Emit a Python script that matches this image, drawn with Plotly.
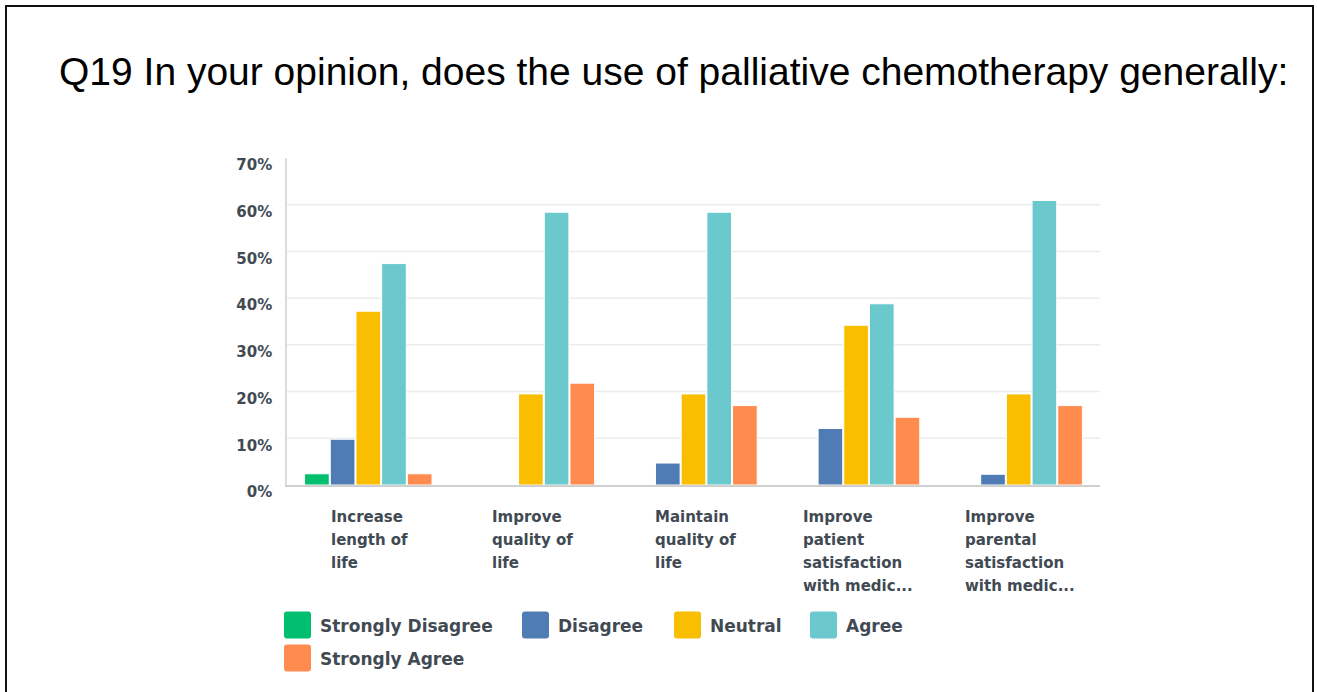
import plotly.graph_objects as go

# Survey responses (percent of respondents)
categories = [
    "Increase length of life",
    "Improve quality of life",
    "Maintain quality of life",
    "Improve patient satisfaction with medic...",
    "Improve parental satisfaction with medic...",
]
category_labels = [
    ["Increase", "length of", "life"],
    ["Improve", "quality of", "life"],
    ["Maintain", "quality of", "life"],
    ["Improve", "patient", "satisfaction", "with medic..."],
    ["Improve", "parental", "satisfaction", "with medic..."],
]
series_names = ["Strongly Disagree", "Disagree", "Neutral", "Agree", "Strongly Agree"]
strongly_disagree = [2.4, 0.0, 0.0, 0.0, 0.0]
disagree = [9.8, 0.0, 4.7, 12.1, 2.3]
neutral = [37.2, 19.5, 19.5, 34.2, 19.5]
agree = [47.4, 58.4, 58.4, 38.8, 60.9]
strongly_agree = [2.4, 21.8, 17.0, 14.5, 17.0]
series_colors = ["#00bf6f", "#507cb6", "#f9be00", "#6bc8cd", "#ff8b4f"]
y_ticks = [0, 10, 20, 30, 40, 50, 60, 70]

W, H = 1317, 692
ML, MR, MT, MB = 287, 217, 158, 207
PW, PH = W - ML - MR, H - MT - MB
TEXT = "#414a53"
FONT = "DejaVu Sans"
LABEL_SIZE = 15
LABEL_LINE = 23  # line pitch of the category labels, px

# approximate advance widths (em) of DejaVu Sans Bold, used to left-align
# the lines of each category label as one block centred under its group
GLYPH_EM = {
    " ": 0.348, ".": 0.380, "a": 0.675, "b": 0.716, "c": 0.593, "d": 0.716,
    "e": 0.678, "f": 0.435, "g": 0.716, "h": 0.712, "i": 0.343, "l": 0.343,
    "m": 1.042, "n": 0.712, "o": 0.687, "p": 0.716, "q": 0.716, "r": 0.493,
    "s": 0.595, "t": 0.478, "u": 0.712, "v": 0.652, "w": 0.924, "y": 0.652,
    "I": 0.372, "M": 0.995,
}


def text_width(s, size):
    return sum(GLYPH_EM.get(ch, 0.65) for ch in s) * size


def px_x(px):
    return (px - ML) / PW


def px_y(py):
    return (H - MB - py) / PH


def rounded_rect(x0, y0, x1, y1, r):
    """SVG path (paper coords) for a rectangle given in pixels, with rounded corners."""
    rx, ry = r / PW, r / PH
    X0, X1 = px_x(x0), px_x(x1)
    Yt, Yb = px_y(y0), px_y(y1)
    pts = [
        f"M{X0 + rx},{Yt}", f"L{X1 - rx},{Yt}", f"Q{X1},{Yt} {X1},{Yt - ry}",
        f"L{X1},{Yb + ry}", f"Q{X1},{Yb} {X1 - rx},{Yb}", f"L{X0 + rx},{Yb}",
        f"Q{X0},{Yb} {X0},{Yb + ry}", f"L{X0},{Yt - ry}", f"Q{X0},{Yt} {X0 + rx},{Yt}",
    ]
    return " ".join(pts) + " Z"


values = [strongly_disagree, disagree, neutral, agree, strongly_agree]

fig = go.Figure()
for name, vals, color in zip(series_names, values, series_colors):
    fig.add_trace(go.Bar(
        x=categories, y=vals, name=name,
        marker=dict(color=color, line=dict(color="white", width=1)),
        showlegend=False,
    ))

shapes = []
# horizontal grid lines (skip baseline and top)
for t in y_ticks[1:-1]:
    shapes.append(dict(type="line", xref="paper", yref="y", x0=0, x1=1, y0=t, y1=t,
                       line=dict(color="#ececec", width=1.5), layer="below"))

# outer frame
shapes.append(dict(type="rect", xref="paper", yref="paper",
                   x0=px_x(6), x1=px_x(1313), y0=px_y(720), y1=px_y(6),
                   line=dict(color="#111111", width=2)))

annotations = []
# category labels: one annotation per line, all lines of a block share a left edge
for cat, lines in zip(categories, category_labels):
    block_w = max(text_width(ln, LABEL_SIZE) for ln in lines)
    for i, ln in enumerate(lines):
        annotations.append(dict(
            x=cat, xref="x", xshift=-block_w / 2 - 0.5,
            y=0, yref="paper", yshift=-21 - i * LABEL_LINE, yanchor="top",
            xanchor="left", showarrow=False, text=ln,
            font=dict(family=FONT, size=LABEL_SIZE, color=TEXT, weight="bold"),
        ))

# legend drawn as swatches + labels
legend_pos = [(284, 625), (522, 625), (674, 625), (810, 625), (284, 658)]
for (lx, ly), name, color in zip(legend_pos, series_names, series_colors):
    s = 27
    shapes.append(dict(type="path", xref="paper", yref="paper",
                       path=rounded_rect(lx, ly - s / 2, lx + s, ly + s / 2, 3),
                       fillcolor=color, line=dict(color=color, width=0)))
    annotations.append(dict(
        x=px_x(lx + s + 7), xref="paper", y=px_y(ly + 1), yref="paper",
        xanchor="left", yanchor="middle", showarrow=False, text=name,
        font=dict(family=FONT, size=17, color=TEXT, weight="bold"),
    ))

# title
annotations.append(dict(
    x=px_x(673), xref="paper", y=px_y(71), yref="paper",
    xanchor="center", yanchor="middle", showarrow=False,
    text="Q19 In your opinion, does the use of palliative chemotherapy generally:",
    font=dict(family="Liberation Sans, Arial", size=39, color="#000000"),
))

fig.update_layout(
    width=W, height=H,
    margin=dict(l=ML, r=MR, t=MT, b=MB),
    paper_bgcolor="white", plot_bgcolor="white",
    barmode="group", bargap=0.21, bargroupgap=0.04,
    shapes=shapes, annotations=annotations,
    xaxis=dict(showticklabels=False, showgrid=False, showline=True,
               linecolor="#cfcfcf", linewidth=2, zeroline=False),
    yaxis=dict(range=[0, 70], tickvals=y_ticks,
               ticktext=[f"{t}%" for t in y_ticks],
               showgrid=False, zeroline=False, showline=True,
               linecolor="#dcdcdc", linewidth=1.5,
               ticks="outside", ticklen=10, tickcolor="rgba(0,0,0,0)",
               ticklabelshift=7,
               tickfont=dict(family=FONT, size=15, color=TEXT, weight="bold")),
)

fig.write_html("out.html")
